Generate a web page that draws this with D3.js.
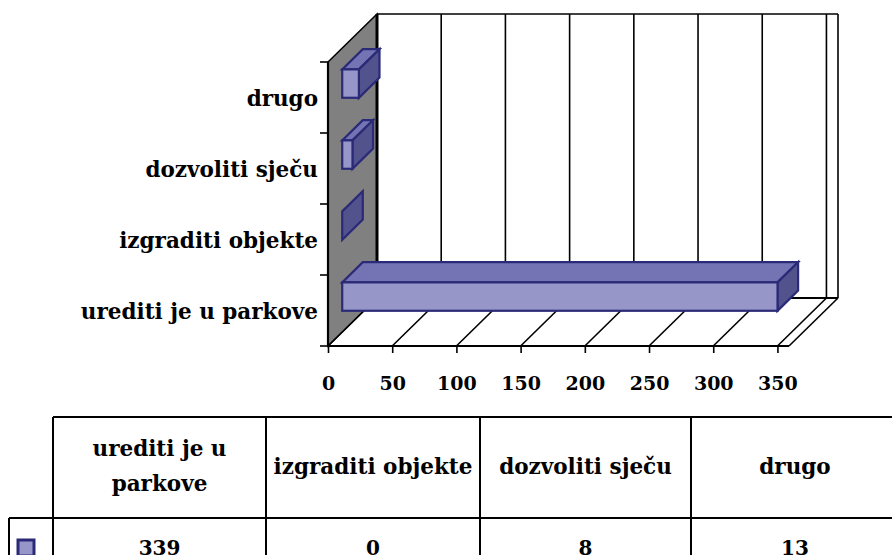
<!DOCTYPE html>
<html><head><meta charset="utf-8">
<script src="https://cdn.jsdelivr.net/npm/d3@7"></script>
<style>body{margin:0;background:#fff}svg{display:block}</style>
</head><body><svg id="c" width="892" height="555"></svg>
<script>
const categories = ["urediti je u parkove", "izgraditi objekte", "dozvoliti sječu", "drugo"];
const values = [339, 0, 8, 13];
const tickValues = [0, 50, 100, 150, 200, 250, 300, 350];
const headerLines = [["urediti je u", "parkove"], ["izgraditi objekte"], ["dozvoliti sječu"], ["drugo"]];

const svg = d3.select("#c");
const FONT = "'DejaVu Serif', serif";
const FRONT = "#9696C8", TOP = "#7474B4", SIDE = "#52528C", EDGE = "#2A2A78";

const x = d3.scaleLinear().domain([0, 359]).range([328, 789]);
const y = d3.scaleBand().domain(categories).range([346, 62]).padding(0);
const DX = 49, DY = -48;
const f1 = 0.29, f2 = 0.71;
const barHalf = y.bandwidth() * 0.2;

// left (gray) wall
svg.append("polygon")
  .attr("points", [[x(0), y.range()[1]], [x(0) + DX, y.range()[1] + DY], [x(0) + DX, y.range()[0] + DY], [x(0), y.range()[0]]].map(p => p.join(",")).join(" "))
  .attr("fill", "#808080").attr("stroke", "#000").attr("stroke-width", 1.5);

// back wall
const xMax = x.domain()[1];
svg.append("rect").attr("x", x(0) + DX).attr("y", y.range()[1] + DY)
  .attr("width", x(xMax) - x(0)).attr("height", y.range()[0] - y.range()[1])
  .attr("fill", "#fff").attr("stroke", "none");
const gridVals = tickValues.slice(1).concat([xMax]);
svg.selectAll(".vgrid").data(gridVals).enter().append("line")
  .attr("x1", d => x(d) + DX).attr("x2", d => x(d) + DX)
  .attr("y1", y.range()[1] + DY).attr("y2", y.range()[0] + DY)
  .attr("stroke", "#000").attr("stroke-width", 1.6);
svg.append("line").attr("x1", x(0) + DX).attr("x2", x(xMax) + DX)
  .attr("y1", y.range()[1] + DY).attr("y2", y.range()[1] + DY)
  .attr("stroke", "#000").attr("stroke-width", 1.6);
svg.append("line").attr("x1", x(0) + DX).attr("x2", x(0) + DX)
  .attr("y1", y.range()[1] + DY).attr("y2", y.range()[0] + DY)
  .attr("stroke", "#000").attr("stroke-width", 3);

// floor
svg.append("line").attr("x1", x(0) + DX).attr("x2", x(xMax) + DX)
  .attr("y1", y.range()[0] + DY).attr("y2", y.range()[0] + DY)
  .attr("stroke", "#000").attr("stroke-width", 2);
svg.selectAll(".fgrid").data(tickValues.concat([xMax])).enter().append("line")
  .attr("x1", d => x(d)).attr("x2", d => x(d) + DX)
  .attr("y1", y.range()[0]).attr("y2", y.range()[0] + DY)
  .attr("stroke", "#000").attr("stroke-width", 1.6);

// bars
const rows = categories.map((c, i) => ({c, v: values[i]})).reverse();
const g = svg.append("g");
rows.forEach(r => {
  const yc = y(r.c) + y.bandwidth() / 2;
  const t = yc - barHalf, b = yc + barHalf;
  const x0 = x(0), xv = x(r.v);
  const ax = DX * f1, ay = DY * f1, bx = DX * f2, by = DY * f2;
  const pts = a => a.map(p => p.join(",")).join(" ");
  const style = s => s.attr("stroke", EDGE).attr("stroke-width", 2.2).attr("stroke-linejoin", "miter");
  if (r.v > 0) {
    style(g.append("polygon").attr("points", pts([[x0 + ax, t + ay], [xv + ax, t + ay], [xv + bx, t + by], [x0 + bx, t + by]])).attr("fill", TOP));
  }
  style(g.append("polygon").attr("points", pts([[xv + ax, t + ay], [xv + bx, t + by], [xv + bx, b + by], [xv + ax, b + ay]])).attr("fill", SIDE));
  if (r.v > 0) {
    style(g.append("rect").attr("x", x0 + ax).attr("y", t + ay).attr("width", xv - x0).attr("height", b - t).attr("fill", FRONT));
  }
});

// front floor edge and axes
svg.append("line").attr("x1", x(0)).attr("x2", x(xMax)).attr("y1", y.range()[0]).attr("y2", y.range()[0])
  .attr("stroke", "#000").attr("stroke-width", 2.2);
svg.append("line").attr("x1", x(0)).attr("x2", x(0)).attr("y1", y.range()[1]).attr("y2", y.range()[0])
  .attr("stroke", "#000").attr("stroke-width", 2.2);

const xAxis = svg.append("g").attr("transform", `translate(0,${y.range()[0]})`)
  .call(d3.axisBottom(x).tickValues(tickValues).tickSize(7).tickPadding(23).tickFormat(d3.format("d")));
xAxis.select(".domain").remove();
xAxis.selectAll("line").attr("stroke", "#000").attr("stroke-width", 1.6);
xAxis.selectAll("text").attr("font-family", FONT).attr("font-weight", "bold").attr("font-size", 19).attr("fill", "#000")
  .attr("dy", "0").attr("y", 44);

const yAxis = svg.append("g").attr("transform", `translate(${x(0)},0)`)
  .call(d3.axisLeft(y).tickSize(0).tickPadding(10));
yAxis.select(".domain").remove();
yAxis.selectAll("text").attr("font-family", FONT).attr("font-weight", "bold").attr("font-size", 21.5).attr("fill", "#000")
  .attr("dy", "0.38em");
// category boundary ticks
const bounds = categories.map(c => y(c)).concat([y.range()[0]]);
svg.selectAll(".ytick").data(bounds).enter().append("line")
  .attr("x1", x(0) - 8).attr("x2", x(0)).attr("y1", d => d).attr("y2", d => d)
  .attr("stroke", "#000").attr("stroke-width", 1.6);

// data table
const colEdges = [53, 266, 480, 691, 899];
const tTop = 417, tMid = 518, tBot = 570;
const tg = svg.append("g");
const L = (x1, y1, x2, y2) => tg.append("line").attr("x1", x1).attr("y1", y1).attr("x2", x2).attr("y2", y2).attr("stroke", "#000").attr("stroke-width", 2);
L(colEdges[0], tTop, 892, tTop);
L(9, tMid, 892, tMid);
L(9, tMid, 9, tBot);
colEdges.slice(0, 4).forEach(cx => L(cx, tTop, cx, tBot));
headerLines.forEach((lines, i) => {
  const cx = (colEdges[i] + colEdges[i + 1]) / 2;
  const n = lines.length;
  lines.forEach((s, j) => {
    tg.append("text").attr("x", cx).attr("y", (tTop + tMid) / 2 + (j - (n - 1) / 2) * 35 + 6)
      .attr("text-anchor", "middle").attr("font-family", FONT).attr("font-weight", "bold").attr("font-size", 21.5).text(s);
  });
  tg.append("text").attr("x", cx).attr("y", 555).attr("text-anchor", "middle")
    .attr("font-family", FONT).attr("font-weight", "bold").attr("font-size", 20).text(values[i]);
});
tg.append("rect").attr("x", 18).attr("y", 540).attr("width", 16).attr("height", 16)
  .attr("fill", FRONT).attr("stroke", EDGE).attr("stroke-width", 3);
</script></body></html>
